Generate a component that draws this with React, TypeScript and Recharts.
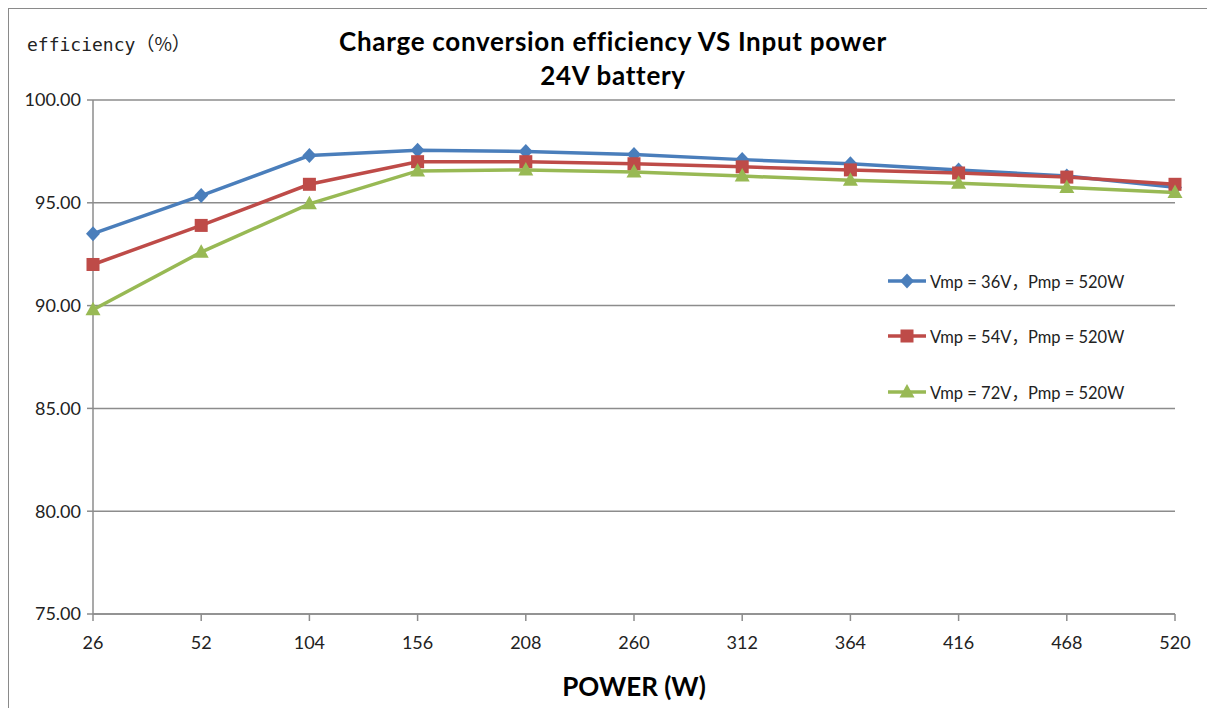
import React from 'react';
import { LineChart, Line, XAxis, YAxis, CartesianGrid, Legend, Label } from 'recharts';

const powerCategories = ['26', '52', '104', '156', '208', '260', '312', '364', '416', '468', '520'];
const vmp36Values = [93.5, 95.35, 97.3, 97.55, 97.5, 97.35, 97.1, 96.9, 96.6, 96.3, 95.75];
const vmp54Values = [92.0, 93.9, 95.9, 97.0, 97.0, 96.9, 96.75, 96.6, 96.45, 96.25, 95.9];
const vmp72Values = [89.8, 92.6, 94.95, 96.55, 96.6, 96.5, 96.3, 96.1, 95.95, 95.75, 95.5];
const yTicks = [75, 80, 85, 90, 95, 100];
const seriesNames = ['Vmp = 36V，Pmp = 520W', 'Vmp = 54V，Pmp = 520W', 'Vmp = 72V，Pmp = 520W'];
const titleLines = ['Charge conversion efficiency VS Input power', '24V battery'];
const yAxisTitleWord = 'efficiency';
const yAxisTitleUnit = '（%）';
const xAxisTitle = 'POWER (W)';

const data = powerCategories.map((p, i) => ({
  power: p,
  s36: vmp36Values[i],
  s54: vmp54Values[i],
  s72: vmp72Values[i],
}));

const COLORS = { s36: '#4A7EBB', s54: '#BE4B48', s72: '#98B954' };
const FONT = 'Lato, "Noto Sans CJK SC", sans-serif';

function drawMarker(kind: string, cx: number, cy: number, color: string, key?: any) {
  if (kind === 'diamond') {
    return <polygon key={key} points={`${cx},${cy - 7.5} ${cx + 7},${cy} ${cx},${cy + 7.5} ${cx - 7},${cy}`} fill={color} />;
  }
  if (kind === 'square') {
    return <rect key={key} x={cx - 6.5} y={cy - 6.5} width={13} height={13} fill={color} />;
  }
  return <polygon key={key} points={`${cx},${cy - 8} ${cx + 7.5},${cy + 5.5} ${cx - 7.5},${cy + 5.5}`} fill={color} />;
}

const markerKinds: Record<string, string> = { s36: 'diamond', s54: 'square', s72: 'triangle' };

const makeDot = (k: string) => (props: any) => {
  const { cx, cy, index } = props;
  if (cx == null || cy == null) return <g key={index} />;
  return drawMarker(markerKinds[k], cx, cy, COLORS[k as keyof typeof COLORS], index);
};

const LegendContent = (props: any) => {
  const { payload } = props;
  return (
    <div style={{ fontFamily: FONT }}>
      {(payload || []).map((entry: any, i: number) => (
        <div key={i} style={{ height: 55.5, display: 'flex', alignItems: 'center' }}>
          <svg width={40} height={20} style={{ marginRight: 3 }}>
            <line x1={1} y1={10} x2={39} y2={10} stroke={entry.color} strokeWidth={3.5} />
            {drawMarker(markerKinds[entry.dataKey], 20, 10, entry.color)}
          </svg>
          <span style={{ fontSize: 16.5, color: '#222', whiteSpace: 'nowrap' }}>{entry.value}</span>
        </div>
      ))}
    </div>
  );
};

export default function App() {
  return (
    <div style={{ position: 'relative', width: 1207, height: 700, background: '#fff' }}>
      <div style={{ position: 'absolute', left: -1, top: -1, width: 1210, height: 702, borderTop: '2px solid #8a8a8a', borderLeft: '2px solid #8a8a8a' }} />
      <div style={{ position: 'absolute', left: 19, top: 22, color: '#222', whiteSpace: 'nowrap', lineHeight: '26px' }}>
        <span style={{ fontFamily: '"DejaVu Sans Mono", monospace', fontSize: 18 }}>{yAxisTitleWord}</span>
        <span style={{ fontFamily: '"Noto Sans CJK SC", sans-serif', fontSize: 19 }}>{yAxisTitleUnit}</span>
      </div>
      <div style={{ position: 'absolute', left: 255, width: 700, top: 16, textAlign: 'center', fontFamily: FONT, fontWeight: 700, fontSize: 26, letterSpacing: 0.7, lineHeight: '34px', color: '#000' }}>
        {titleLines.map((t, i) => <div key={i}>{t}</div>)}
      </div>
      <LineChart width={1207} height={700} data={data} margin={{ top: 92, right: 40, left: 0, bottom: 0 }} style={{ position: 'absolute', left: 0, top: 0 }}>
        <CartesianGrid vertical={false} horizontal={true} stroke="#8c8c8c" strokeWidth={1.5} />
        <XAxis
          dataKey="power"
          height={94}
          stroke="#8c8c8c"
          strokeWidth={1.5}
          tickSize={7}
          tickMargin={15}
          tick={{ fill: '#222', fontSize: 18, fontFamily: FONT }}
          interval={0}
        >
          <Label value={xAxisTitle} position="insideBottom" offset={12} style={{ fontFamily: FONT, fontWeight: 700, fontSize: 26, fill: '#000' }} />
        </XAxis>
        <YAxis
          type="number"
          domain={[75, 100]}
          ticks={yTicks}
          width={85}
          stroke="#8c8c8c"
          strokeWidth={1.5}
          tickSize={6}
          tickMargin={6}
          tickFormatter={(v: number) => v.toFixed(2)}
          tick={{ fill: '#222', fontSize: 18, fontFamily: FONT }}
          allowDataOverflow
        />
        <Legend layout="vertical" verticalAlign="middle" align="center" wrapperStyle={{ left: 879, top: 245, width: 300 }} content={<LegendContent />} />
        <Line dataKey="s36" name={seriesNames[0]} stroke={COLORS.s36} strokeWidth={3.5} dot={makeDot('s36')} isAnimationActive={false} />
        <Line dataKey="s54" name={seriesNames[1]} stroke={COLORS.s54} strokeWidth={3.5} dot={makeDot('s54')} isAnimationActive={false} />
        <Line dataKey="s72" name={seriesNames[2]} stroke={COLORS.s72} strokeWidth={3.5} dot={makeDot('s72')} isAnimationActive={false} />
      </LineChart>
    </div>
  );
}
